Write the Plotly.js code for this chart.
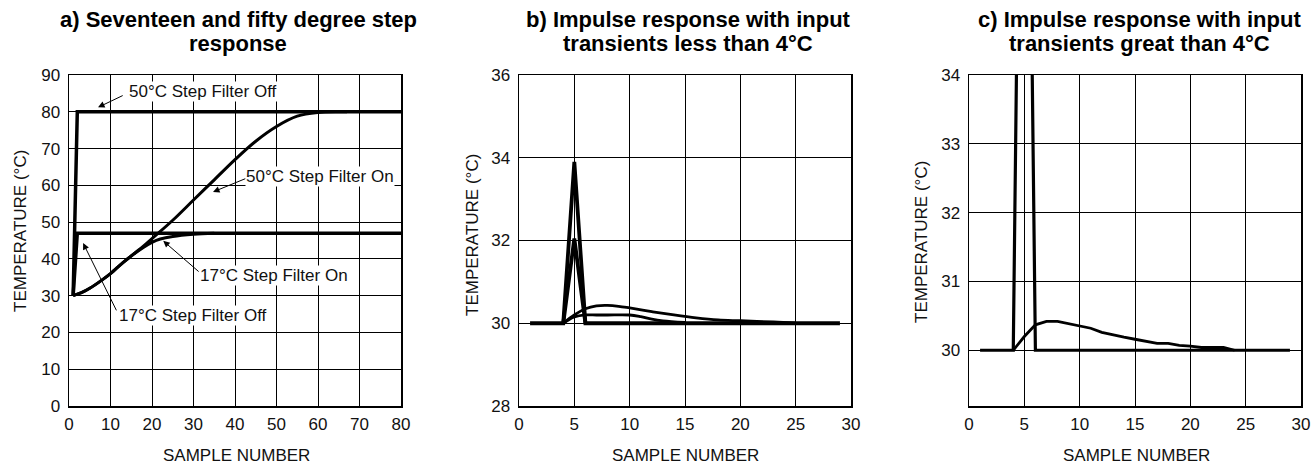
<!DOCTYPE html>
<html>
<head>
<meta charset="utf-8">
<script src="https://cdn.plot.ly/plotly-3.0.1.min.js"></script>
<style>
  html, body { margin: 0; padding: 0; background: #fff; }
  #chart { width: 1312px; height: 467px; }
</style>
</head>
<body>
<div id="chart"></div>
<script>
// ---------- Panel a: step responses ----------
const aOffX = [1, 2, 80];
const a50OffY = [30, 80, 80];
const a17OffY = [30, 47, 47];
const a50OnX = [1, 3, 5, 8, 10, 13, 15, 18, 20, 25, 30, 35, 40, 45, 50, 55, 60, 65, 67];
const a50OnY = [30, 30.8, 32, 34.3, 36, 39, 40.8, 43.5, 45.5, 50.5, 56, 61.5, 67, 72, 76, 78.8, 79.8, 80, 80];
const a17OnX = [1, 3, 5, 8, 10, 13, 15, 18, 20, 22, 25, 30, 35];
const a17OnY = [30, 30.8, 32, 34.3, 36, 39, 40.8, 43.2, 44.5, 45.4, 46.1, 46.7, 47];

// ---------- Panel b: impulse < 4°C ----------
const bSpike1X = [1, 4, 5, 6, 29];
const bSpike1Y = [30, 30, 33.9, 30, 30];
const bSpike2X = [4, 5, 6];
const bSpike2Y = [30, 32.05, 30];
const bFilt1X = [4, 5, 6, 7, 8, 9, 10, 12, 14, 16, 18, 20, 23, 25];
const bFilt1Y = [30, 30.2, 30.35, 30.42, 30.43, 30.41, 30.37, 30.28, 30.2, 30.13, 30.08, 30.06, 30.03, 30];
const bFilt2X = [4, 5, 6, 7, 8, 10, 11, 12, 13, 15];
const bFilt2Y = [30, 30.15, 30.2, 30.2, 30.2, 30.2, 30.16, 30.1, 30.06, 30.02];

// ---------- Panel c: impulse > 4°C ----------
const cSpikeX = [1, 4, 5, 6, 29];
const cSpikeY = [30, 30, 44, 30, 30];
const cFiltX = [4, 5, 6, 7, 8, 9, 10, 11, 12, 13, 14, 15, 16, 17, 18, 19, 20, 21, 22, 23, 24];
const cFiltY = [30, 30.2, 30.37, 30.42, 30.42, 30.39, 30.36, 30.32, 30.26, 30.22, 30.19, 30.16, 30.13, 30.1, 30.1, 30.07, 30.06, 30.04, 30.04, 30.04, 30];

// ---------- Text ----------
const titles = [
  ["a) Seventeen and fifty degree step", "response"],
  ["b) Impulse response with input", "transients less than 4°C"],
  ["c) Impulse response with input", "transients great than 4°C"]
];
const yTitle = "TEMPERATURE (°C)";
const xTitle = "SAMPLE NUMBER";
const labelsA = ["50°C Step Filter Off", "50°C Step Filter On", "17°C Step Filter On", "17°C Step Filter Off"];

const W = 1312, H = 467;
const FONT = "Liberation Sans, Arial, Helvetica, sans-serif";
const px = v => v / W;
const py = v => 1 - v / H;

function ln(x, y, xa, ya, w, shape) {
  return { x: x, y: y, xaxis: xa, yaxis: ya, type: 'scatter', mode: 'lines',
           line: { color: '#000', width: w, shape: shape || 'linear', smoothing: 1 },
           hoverinfo: 'skip', showlegend: false, cliponaxis: true };
}

const traces = [
  ln(aOffX, a17OffY, 'x', 'y', 3.5),
  ln(aOffX, a50OffY, 'x', 'y', 3.5),
  ln(a50OnX, a50OnY, 'x', 'y', 3, 'spline'),
  ln(a17OnX, a17OnY, 'x', 'y', 3, 'spline'),

  ln(bSpike1X, bSpike1Y, 'x2', 'y2', 3.8),
  ln(bSpike2X, bSpike2Y, 'x2', 'y2', 3.8),
  ln(bFilt1X, bFilt1Y, 'x2', 'y2', 2.8, 'spline'),
  ln(bFilt2X, bFilt2Y, 'x2', 'y2', 2.8, 'spline'),

  ln(cSpikeX, cSpikeY, 'x3', 'y3', 3.2),
  ln(cFiltX, cFiltY, 'x3', 'y3', 2.8)
];

function xax(dom, range, dtick, anchor) {
  return { domain: dom, range: range, dtick: dtick, tick0: 0, anchor: anchor,
           showgrid: true, gridcolor: '#000', gridwidth: 1,
           showline: true, linecolor: '#000', linewidth: 1.5, mirror: true,
           zeroline: false, ticks: '', ticklabelstandoff: 2,
           tickfont: { family: FONT, size: 17, color: '#111' }, fixedrange: true };
}
function yax(dom, range, dtick, anchor) {
  return { domain: dom, range: range, dtick: dtick, tick0: 0, anchor: anchor,
           showgrid: true, gridcolor: '#000', gridwidth: 1,
           showline: true, linecolor: '#000', linewidth: 1.5, mirror: true,
           zeroline: false, ticks: '', ticklabelstandoff: 4,
           tickfont: { family: FONT, size: 17, color: '#111' }, fixedrange: true };
}

const yDom = [py(406), py(75)];

const annotations = [];
// Titles
const titleCx = [238, 688, 1139];
titles.forEach((t, i) => {
  annotations.push({ xref: 'paper', yref: 'paper', x: px(titleCx[i]), y: py(19.3), text: '<b>' + t[0] + '</b>',
    showarrow: false, xanchor: 'center', yanchor: 'middle', font: { family: FONT, size: 22, color: '#000' } });
  annotations.push({ xref: 'paper', yref: 'paper', x: px(titleCx[i]), y: py(43.8), text: '<b>' + t[1] + '</b>',
    showarrow: false, xanchor: 'center', yanchor: 'middle', font: { family: FONT, size: 22, color: '#000' } });
});
// Axis titles
[[21, 231], [472, 235], [921, 242]].forEach(p => {
  annotations.push({ xref: 'paper', yref: 'paper', x: px(p[0]), y: py(p[1]), text: yTitle, textangle: -90,
    showarrow: false, xanchor: 'center', yanchor: 'middle', font: { family: FONT, size: 17, color: '#111' } });
});
[236, 685, 1136].forEach(cx => {
  annotations.push({ xref: 'paper', yref: 'paper', x: px(cx), y: py(467), text: xTitle,
    showarrow: false, xanchor: 'center', yanchor: 'bottom', font: { family: FONT, size: 17, color: '#111' } });
});
// Panel a labels (text) and arrows
const labelPos = [[32.3, 85.6], [60.5, 62.5], [49.4, 35.6], [29.9, 24.7]];
const arrowHead = [[7.0, 81.2], [34.7, 58.2], [22.7, 44.9], [3.4, 44.3]];
const arrowTail = [[13.3, 84.6], [42.9, 62.0], [31.6, 36.2], [11.6, 25.6]];
labelsA.forEach((t, i) => {
  annotations.push({ xref: 'x', yref: 'y', x: arrowHead[i][0], y: arrowHead[i][1],
    axref: 'x', ayref: 'y', ax: arrowTail[i][0], ay: arrowTail[i][1], text: '',
    showarrow: true, arrowhead: 2, arrowsize: 1.3, arrowwidth: 1, arrowcolor: '#000' });
  annotations.push({ xref: 'x', yref: 'y', x: labelPos[i][0], y: labelPos[i][1], text: t,
    showarrow: false, xanchor: 'center', yanchor: 'middle', bgcolor: '#fff', borderpad: 0,
    font: { family: FONT, size: 17, color: '#111' } });
});

const layout = {
  width: W, height: H,
  margin: { l: 0, r: 0, t: 0, b: 0 },
  paper_bgcolor: '#fff', plot_bgcolor: '#fff',
  showlegend: false,
  xaxis: xax([px(69), px(401)], [0, 80], 10, 'y'),
  yaxis: yax(yDom, [0, 90], 10, 'x'),
  xaxis2: xax([px(519), px(851)], [0, 30], 5, 'y2'),
  yaxis2: yax(yDom, [28, 36], 2, 'x2'),
  xaxis3: xax([px(969), px(1301)], [0, 30], 5, 'y3'),
  yaxis3: yax(yDom, [29.19, 34], 1, 'x3'),
  annotations: annotations
};

Plotly.newPlot('chart', traces, layout, { staticPlot: true, displayModeBar: false });
</script>
</body>
</html>
